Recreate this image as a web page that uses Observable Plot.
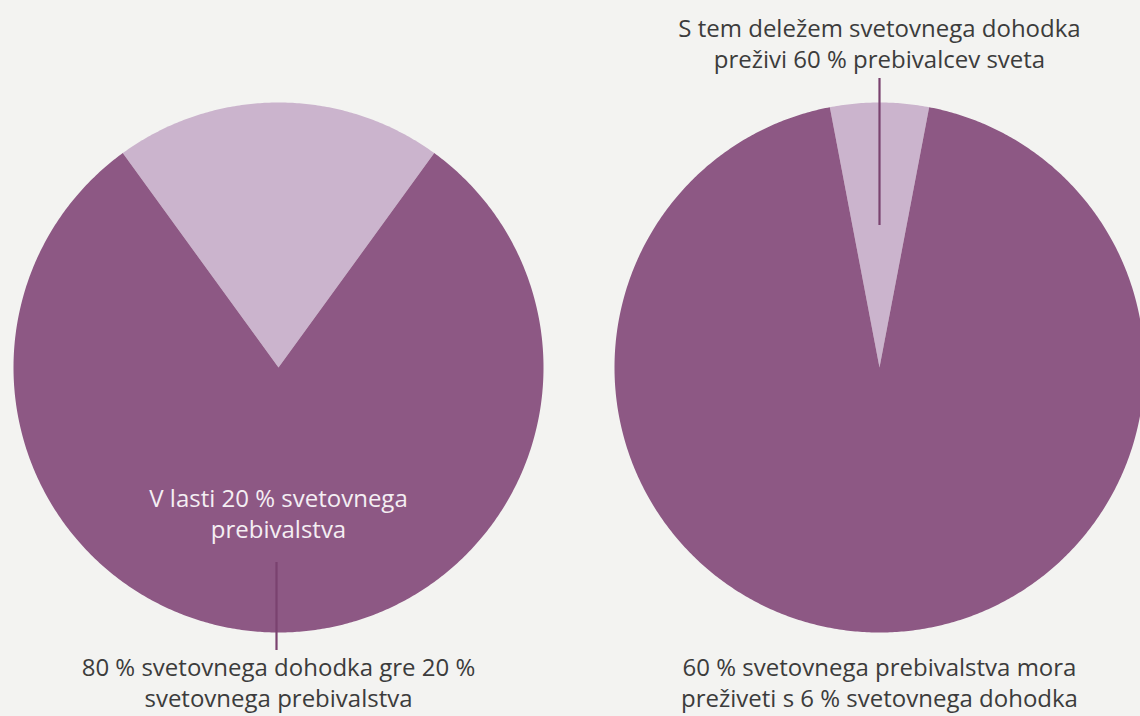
<!DOCTYPE html>
<html>
<head>
<meta charset="utf-8">
<script src="https://cdn.jsdelivr.net/npm/d3@7"></script>
<script src="https://cdn.jsdelivr.net/npm/@observablehq/plot@0.6"></script>
<style>
  html, body { margin: 0; padding: 0; background: #f3f3f1; }
  #chart { width: 1140px; height: 716px; overflow: hidden; }
</style>
</head>
<body>
<div id="chart"></div>
<script>
// ---- data ----
const pies = ["income_top20", "income_bottom60"];
const wedgeShares = [20, 6];          // light wedge share of the circle (%)
const restShares = [80, 94];          // dark remainder (%)
const sliceNames = ["light", "dark"];
const sliceColors = ["#cbb4cd", "#8d5884"];
const topLabels = ["", "S tem deležem svetovnega dohodka\npreživi 60 % prebivalcev sveta"];
const innerLabels = ["V lasti 20 % svetovnega\nprebivalstva", ""];
const bottomLabels = ["80 % svetovnega dohodka gre 20 %\nsvetovnega prebivalstva",
                      "60 % svetovnega prebivalstva mora\npreživeti s 6 % svetovnega dohodka"];

// ---- layout (radius = 1 unit) ----
const R = 265;            // px per unit
const W = 1140, H = 716;
const cx0 = 278, cy0 = 367;   // pixel centre of the first pie
const centers = [0, (879 - 278) / R];

// build slice polygons from the shares with d3.pie
const polys = [];
pies.forEach((p, i) => {
  const vals = [wedgeShares[i], restShares[i]];
  const half = Math.PI * wedgeShares[i] / 100;
  const arcs = d3.pie().sort(null).startAngle(-half).endAngle(2 * Math.PI - half)(vals);
  arcs.forEach((a, j) => {
    const id = p + "-" + sliceNames[j];
    polys.push({id, slice: sliceNames[j], x: centers[i], y: 0});
    const n = Math.max(8, Math.ceil((a.endAngle - a.startAngle) / (Math.PI / 360)));
    for (let k = 0; k <= n; k++) {
      const t = a.startAngle + (a.endAngle - a.startAngle) * k / n;
      polys.push({id, slice: sliceNames[j], x: centers[i] + Math.sin(t), y: Math.cos(t)});
    }
    polys.push({id, slice: sliceNames[j], x: centers[i], y: 0});
  });
});

const u = px => px / R;   // pixel offset -> data units
const textData = [
  {x: centers[1], y: u(cy0 - 42), text: topLabels[1], fill: "#3c3c3c"},
  {x: centers[0], y: u(cy0 - 512), text: innerLabels[0], fill: "#f4eef3"},
  {x: centers[0], y: u(cy0 - 681), text: bottomLabels[0], fill: "#3c3c3c"},
  {x: centers[1], y: u(cy0 - 681), text: bottomLabels[1], fill: "#3c3c3c"}
];

const chart = Plot.plot({
  width: W,
  height: H,
  margin: 0,
  x: {domain: [-cx0 / R, (W - cx0) / R], axis: null},
  y: {domain: [-(H - cy0) / R, cy0 / R], axis: null},
  style: {background: "#f3f3f1", fontFamily: "'Open Sans', sans-serif"},
  marks: [
    Plot.line(polys, {
      x: "x", y: "y", z: "id",
      fill: d => sliceColors[sliceNames.indexOf(d.slice)],
      stroke: null
    }),
    // leader lines
    Plot.ruleX([centers[1]], {y1: u(cy0 - 78), y2: u(cy0 - 225), stroke: "#7a426f", strokeWidth: 2.2}),
    Plot.ruleX([centers[0] - u(2)], {y1: u(cy0 - 562), y2: u(cy0 - 650), stroke: "#7a426f", strokeWidth: 2.2}),
    Plot.text(textData, {
      x: "x", y: "y", text: "text", fill: "fill",
      fontSize: 24, lineHeight: 1.3, lineAnchor: "middle", textAnchor: "middle"
    })
  ]
});
document.getElementById("chart").appendChild(chart);
</script>
</body>
</html>
